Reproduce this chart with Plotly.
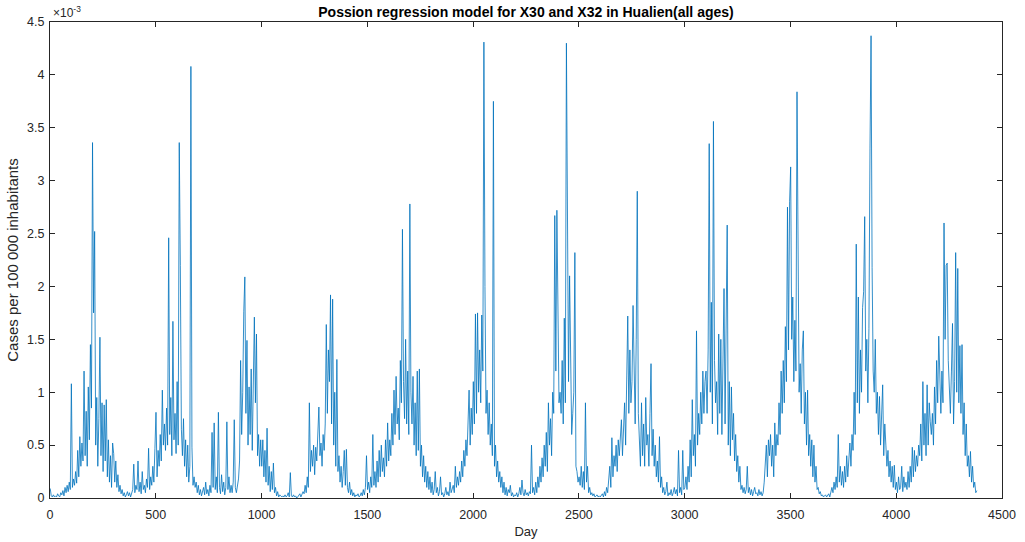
import plotly.graph_objects as go

# Daily series sampled every 5 days (values in units of 1e-3 cases per 100 000 inhabitants)
day_start = 1
day_step = 5

cases_days_0001_0996 = [
    0.09, 0.02, 0.01, 0.03, 0.01, 0.02, 0.01, 0.04, 0.02, 0.01, 0.05, 0.03, 0.07, 0.02, 0.1, 0.05, 0.12, 0.06, 0.15, 0.08,
    1.08, 0.1, 0.18, 0.12, 0.25, 0.14, 0.45, 0.2, 0.58, 0.3, 0.52, 0.35, 1.2, 0.4, 0.82, 0.3, 1.05, 0.55, 1.45, 0.85,
    3.36, 1.75, 2.52, 0.5, 0.95, 0.3, 0.75, 1.52, 0.4, 0.9, 0.25, 0.88, 0.35, 0.93, 0.2, 0.55, 0.15, 0.4, 0.1, 0.52,
    0.42, 0.15, 0.35, 0.1, 0.22, 0.06, 0.12, 0.04, 0.08, 0.02, 0.05, 0.01, 0.03, 0.06, 0.02, 0.05, 0.01, 0.04, 0.08, 0.32,
    0.05, 0.12, 0.08, 0.35, 0.06, 0.15, 0.04, 0.25, 0.08, 0.12, 0.05, 0.18, 0.1, 0.47, 0.08, 0.2, 0.12, 0.3, 0.15, 0.47,
    0.81, 0.2, 0.45, 0.3, 0.6, 0.35, 1.02, 0.5, 0.7, 0.45, 0.85, 0.5, 2.46, 0.6, 0.95, 0.4, 1.67, 0.55, 0.8, 0.42,
    1.1, 0.5, 3.36, 2.2, 0.65, 0.4, 0.75, 0.3, 0.55, 0.2, 0.5, 0.15, 0.3, 4.08, 0.48, 0.12, 0.2, 0.1, 0.15, 0.05,
    0.12, 0.03, 0.08, 0.02, 0.05, 0.1, 0.03, 0.15, 0.04, 0.08, 0.02, 0.12, 0.05, 0.62, 0.1, 0.71, 0.08, 0.2, 0.05, 0.81,
    0.1, 0.04, 0.22, 0.06, 0.15, 0.03, 0.1, 0.72, 0.08, 0.2, 0.05, 0.12, 0.05, 0.15, 0.74, 0.1, 0.05, 0.12, 0.18, 0.35,
    1.3, 0.6, 1.0, 1.76, 2.09, 0.8, 1.49, 0.5, 1.05, 0.6, 1.22, 0.45, 1.15, 1.71, 0.9, 1.55, 0.4, 0.6, 0.3, 0.55,
]

cases_days_1001_1996 = [
    0.3, 0.55, 0.2, 0.45, 0.15, 0.66, 0.12, 0.3, 0.06, 0.25, 0.08, 0.33, 0.05, 0.1, 0.02, 0.06, 0.01, 0.03, 0.02, 0.01,
    0.02, 0.01, 0.03, 0.01, 0.02, 0.05, 0.01, 0.24, 0.02, 0.01, 0.03, 0.01, 0.02, 0.0, 0.01, 0.02, 0.04, 0.01, 0.03, 0.06,
    0.04, 0.12, 0.05, 0.2, 0.1, 0.9, 0.25, 0.45, 0.3, 0.5, 0.22, 0.48, 0.35, 0.55, 0.86, 0.4, 0.52, 0.3, 0.6, 0.45,
    0.7, 1.64, 0.8, 1.4, 1.1, 1.92, 0.7, 1.88, 0.5, 1.0, 0.3, 1.31, 0.25, 0.4, 0.15, 0.3, 0.1, 0.25, 0.45, 0.12,
    0.46, 0.1, 0.05, 0.15, 0.03, 0.08, 0.02, 0.05, 0.01, 0.03, 0.02, 0.04, 0.01, 0.02, 0.05, 0.02, 0.08, 0.03, 0.1, 0.4,
    0.08, 0.15, 0.05, 0.2, 0.1, 0.6, 0.12, 0.25, 0.1, 0.35, 0.15, 0.45, 0.2, 0.5, 0.25, 0.38, 0.2, 0.55, 0.3, 0.71,
    0.35, 0.55, 0.4, 0.8, 0.5, 1.02, 0.6, 1.15, 0.7, 0.85, 0.55, 1.3, 0.9, 2.54, 1.1, 0.75, 1.5, 0.7, 1.2, 0.6,
    2.78, 1.0, 0.7, 1.15, 0.5, 0.9, 0.4, 1.2, 0.45, 1.22, 0.3, 0.5, 0.2, 0.4, 0.15, 0.3, 0.1, 0.25, 0.08, 0.2,
    0.05, 0.15, 0.03, 0.08, 0.25, 0.05, 0.1, 0.02, 0.06, 0.2, 0.03, 0.05, 0.01, 0.04, 0.1, 0.03, 0.06, 0.02, 0.15, 0.05,
    0.08, 0.12, 0.05, 0.3, 0.1, 0.2, 0.12, 0.25, 0.15, 0.35, 0.2, 0.45, 0.3, 0.55, 0.4, 0.7, 1.02, 0.5, 0.85, 0.6,
]

cases_days_2001_2996 = [
    1.1, 0.7, 1.74, 0.8, 1.75, 1.0, 1.4, 0.9, 1.73, 1.2, 4.31, 2.0, 0.8, 1.02, 0.6, 0.9, 0.5, 0.7, 0.4, 3.75,
    0.3, 0.5, 0.2, 0.35, 0.15, 0.25, 0.1, 0.2, 0.05, 0.15, 0.03, 0.1, 0.02, 0.08, 0.05, 0.12, 0.02, 0.05, 0.01, 0.03,
    0.02, 0.05, 0.01, 0.04, 0.1, 0.03, 0.17, 0.05, 0.02, 0.08, 0.03, 0.05, 0.02, 0.06, 0.04, 0.5, 0.05, 0.1, 0.03, 0.15,
    0.05, 0.2, 0.1, 0.3, 0.15, 0.38, 0.2, 0.5, 0.3, 0.62, 0.25, 0.9, 0.5, 0.75, 0.4, 1.0, 0.8, 2.67, 1.2, 2.72,
    1.5, 0.9, 1.0, 0.8, 1.3, 0.7, 1.7, 0.9, 4.3, 2.96, 1.1, 2.1, 1.4, 0.6, 0.8, 1.0, 2.32, 0.3, 0.25, 0.15,
    0.2, 0.12, 0.3, 0.1, 0.25, 0.08, 0.9, 0.15, 0.3, 0.05, 0.1, 0.03, 0.05, 0.02, 0.04, 0.01, 0.02, 0.03, 0.01, 0.02,
    0.01, 0.02, 0.04, 0.01, 0.06, 0.02, 0.1, 0.05, 0.15, 0.3, 0.1, 0.57, 0.2, 0.4, 0.3, 0.5, 0.25, 0.55, 0.4, 0.65,
    0.74, 0.4, 0.6, 0.9, 0.5, 1.2, 1.72, 0.8, 1.4, 0.9, 1.1, 1.82, 1.3, 0.7, 1.5, 2.9, 0.8, 0.5, 0.3, 0.9,
    0.4, 0.7, 0.3, 0.95, 0.5, 0.6, 0.3, 0.8, 1.27, 0.4, 0.65, 0.3, 0.5, 0.2, 0.35, 0.15, 0.58, 0.1, 0.2, 0.05,
    0.1, 0.03, 0.06, 0.15, 0.02, 0.05, 0.03, 0.08, 0.02, 0.05, 0.1, 0.04, 0.08, 0.02, 0.45, 0.05, 0.1, 0.03, 0.45, 0.08,
]

cases_days_3001_3996 = [
    0.1, 0.2, 0.08, 0.3, 0.15, 0.55, 0.2, 0.93, 0.4, 0.6, 0.3, 1.58, 0.5, 0.8, 0.6, 1.0, 0.7, 1.2, 0.8, 1.1,
    1.2, 0.8, 1.4, 3.35, 1.0, 1.85, 0.7, 3.56, 1.3, 0.9, 1.1, 0.6, 1.55, 0.8, 1.5, 0.6, 1.3, 1.98, 0.7, 1.4,
    2.58, 0.5, 1.1, 0.4, 1.05, 0.55, 0.8, 0.35, 0.6, 0.25, 0.4, 0.15, 0.3, 0.08, 0.12, 0.05, 0.1, 0.04, 0.08, 0.3,
    0.05, 0.1, 0.03, 0.08, 0.02, 0.06, 0.1, 0.04, 0.05, 0.02, 0.08, 0.03, 0.06, 0.02, 0.05, 0.15, 0.3, 0.5, 0.2, 0.55,
    0.4, 0.6, 0.3, 0.5, 0.2, 0.71, 0.4, 0.6, 0.5, 0.9, 0.6, 1.2, 0.8, 1.3, 0.9, 1.62, 1.1, 2.75, 1.4, 2.8,
    3.13, 1.5, 1.9, 1.1, 1.68, 1.2, 3.84, 1.72, 1.0, 1.27, 0.8, 1.4, 1.58, 0.7, 1.0, 0.5, 1.02, 0.4, 0.6, 0.3,
    0.55, 0.2, 0.5, 0.15, 0.3, 0.08, 0.1, 0.04, 0.06, 0.02, 0.03, 0.01, 0.02, 0.03, 0.01, 0.02, 0.04, 0.01, 0.05, 0.1,
    0.05, 0.15, 0.08, 0.2, 0.1, 0.6, 0.15, 0.3, 0.12, 0.25, 0.1, 0.3, 0.15, 0.4, 0.2, 0.35, 0.52, 0.3, 0.6, 0.45,
    1.0, 0.6, 2.4, 0.9, 1.9, 0.8, 1.4, 1.0, 1.8, 1.95, 2.66, 1.2, 1.5, 0.9, 1.6, 3.3, 4.37, 2.18, 1.2, 1.0,
    1.5, 0.8, 1.0, 0.6, 0.96, 0.5, 0.8, 1.07, 0.4, 0.7, 0.5, 0.3, 0.45, 0.2, 0.35, 0.15, 0.3, 0.1, 0.31, 0.08,
]

cases_days_4001_4381 = [
    0.15, 0.05, 0.2, 0.08, 0.1, 0.3, 0.06, 0.2, 0.1, 0.15, 0.08, 0.25, 0.1, 0.3, 0.15, 0.48, 0.2, 0.45, 0.25, 0.4,
    0.3, 0.5, 0.4, 0.7, 0.35, 1.1, 0.5, 0.8, 0.4, 1.07, 0.5, 0.9, 0.72, 0.6, 0.8, 0.5, 1.05, 0.7, 1.3, 0.9,
    1.53, 1.0, 0.8, 1.2, 0.9, 2.6, 1.5, 2.2, 2.22, 1.3, 1.04, 0.8, 1.2, 1.65, 0.7, 1.1, 2.32, 1.0, 2.17, 0.9,
    1.44, 0.8, 1.45, 0.6, 0.9, 0.4, 0.7, 0.3, 0.4, 0.2, 0.44, 0.15, 0.3, 0.1, 0.15, 0.05, 0.07,
]

x_ticks = [0, 500, 1000, 1500, 2000, 2500, 3000, 3500, 4000, 4500]
y_ticks = [0, 0.5, 1, 1.5, 2, 2.5, 3, 3.5, 4, 4.5]
y_tick_labels = ["0", "0.5", "1", "1.5", "2", "2.5", "3", "3.5", "4", "4.5"]

cases = (cases_days_0001_0996 + cases_days_1001_1996 + cases_days_2001_2996
         + cases_days_3001_3996 + cases_days_4001_4381)
days = [day_start + day_step * i for i in range(len(cases))]

FONT = "Liberation Sans, Arial, Helvetica, sans-serif"
AX = "#262626"

fig = go.Figure(
    go.Scatter(x=days, y=cases, mode="lines",
               line=dict(color="#0072BD", width=0.8), hoverinfo="skip")
)

axis_common = dict(
    showline=True, linecolor=AX, linewidth=1, mirror="ticks",
    ticks="inside", ticklen=5, tickwidth=1, tickcolor=AX,
    showgrid=False, zeroline=False, automargin=False,
    tickfont=dict(family=FONT, size=12.5, color=AX),
)

fig.update_xaxes(range=[0, 4500], tickvals=x_ticks,
                 ticktext=[str(t) for t in x_ticks],
                 ticklabelstandoff=5,
                 title=dict(text="Day", font=dict(family=FONT, size=13, color=AX), standoff=5),
                 **axis_common)
fig.update_yaxes(range=[0, 4.5], tickvals=y_ticks, ticktext=y_tick_labels,
                 ticklabelstandoff=2,
                 title=dict(text="Cases per 100 000 inhabitants",
                            font=dict(family=FONT, size=15, color=AX), standoff=4),
                 **axis_common)

fig.update_layout(
    width=1025, height=542,
    margin=dict(l=50, r=23, t=22, b=44),
    paper_bgcolor="white", plot_bgcolor="white",
    showlegend=False,
    title=dict(text="<b>Possion regression model for X30 and X32 in Hualien(all ages)</b>",
               x=0.5, xref="paper", xanchor="center",
               y=1 - 12 / 542, yref="container", yanchor="middle",
               font=dict(family=FONT, size=14, color="black")),
    annotations=[dict(text="×10<sup>-3</sup>", xref="paper", yref="paper",
                      x=0, y=1, xanchor="left", yanchor="bottom",
                      xshift=1, yshift=0, showarrow=False,
                      font=dict(family=FONT, size=12, color=AX))],
)

fig.write_html("out.html")
